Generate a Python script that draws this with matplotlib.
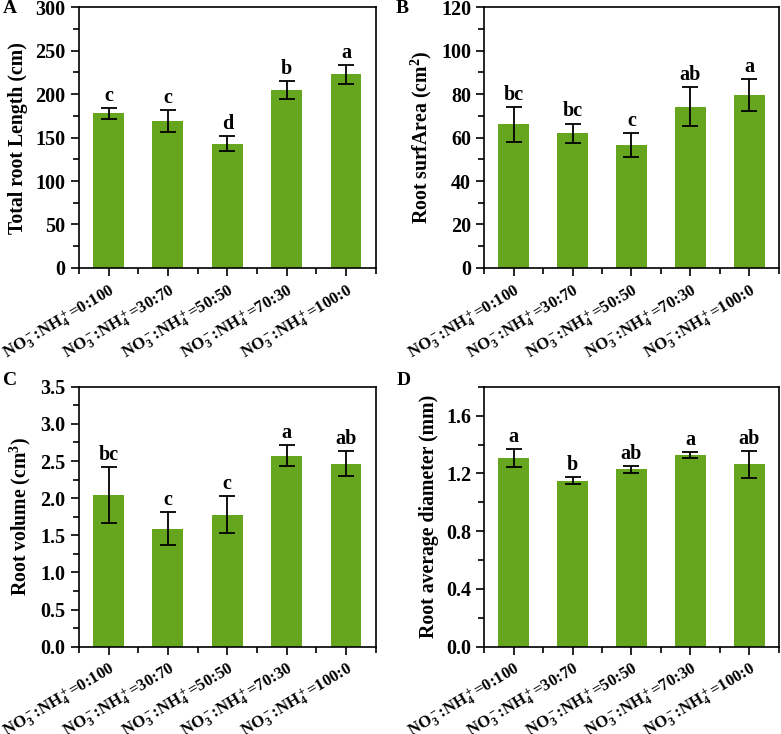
import numpy as np
import matplotlib
matplotlib.use("Agg")
import matplotlib.pyplot as plt
import matplotlib.transforms as mtransforms
from matplotlib.ticker import MultipleLocator

plt.rcParams['font.family'] = ['Liberation Serif', 'DejaVu Serif']
plt.rcParams['font.weight'] = 'bold'
plt.rcParams['mathtext.fontset'] = 'custom'
plt.rcParams['mathtext.rm'] = 'Liberation Serif:bold'
plt.rcParams['mathtext.bf'] = 'Liberation Serif:bold'
plt.rcParams['mathtext.it'] = 'Liberation Serif:bold'
plt.rcParams['mathtext.default'] = 'bf'

# --- data ---
ratios = ['0:100', '30:70', '50:50', '70:30', '100:0']

length_mean = [178, 169, 143, 205, 223]
length_err = [6, 13, 8.5, 10.5, 11]
length_sig = ['c', 'c', 'd', 'b', 'a']

area_mean = [66.2, 61.9, 56.6, 74.2, 79.7]
area_err = [8.0, 4.6, 5.4, 9.0, 7.3]
area_sig = ['bc', 'bc', 'c', 'ab', 'a']

volume_mean = [2.045, 1.59, 1.78, 2.57, 2.465]
volume_err = [0.38, 0.225, 0.245, 0.14, 0.17]
volume_sig = ['bc', 'c', 'c', 'a', 'ab']

diam_mean = [1.306, 1.149, 1.228, 1.326, 1.264]
diam_err = [0.064, 0.024, 0.023, 0.02, 0.093]
diam_sig = ['a', 'b', 'ab', 'a', 'ab']

bar_color = '#66a61f'
xlabels = [r'NO$_3^-$:NH$_4^+$=' + r for r in ratios]

fig = plt.figure(figsize=(7.81, 7.34), dpi=100)

panels = [
    ('A', [0.101, 0.635, 0.380, 0.355], (0.003, 0.988), length_mean, length_err,
     length_sig, 'Total root Length (cm)', (0, 300), 50, 25, '%d'),
    ('B', [0.620, 0.635, 0.377, 0.355], (0.506, 0.988), area_mean, area_err,
     area_sig, r'Root surfArea (cm$^2$)', (0, 120), 20, 10, '%d'),
    ('C', [0.101, 0.119, 0.380, 0.354], (0.004, 0.481), volume_mean, volume_err,
     volume_sig, r'Root volume (cm$^3$)', (0, 3.5), 0.5, 0.25, '%.1f'),
    ('D', [0.620, 0.119, 0.377, 0.354], (0.508, 0.481), diam_mean, diam_err,
     diam_sig, 'Root average diameter (mm)', (0, 1.8), 0.4, 0.2, '%.1f'),
]

x = np.arange(len(ratios))
shift = mtransforms.ScaledTranslation(8 / 100, 0, fig.dpi_scale_trans)
for letter, rect, lpos, mean, err, sig, ylabel, ylim, major, minor, fmt in panels:
    ax = fig.add_axes(rect)
    ax.bar(x, mean, width=0.52, color=bar_color, zorder=2)
    ax.errorbar(x, mean, yerr=err, fmt='none', ecolor='black',
                elinewidth=1.3, capsize=5.5, capthick=1.3, zorder=3)
    off = (ylim[1] - ylim[0]) * 0.008
    for xi, m, e, s in zip(x, mean, err, sig):
        ax.text(xi, m + e + off, s, ha='center', va='bottom',
                fontsize=14.5, fontweight='bold')
    ax.set_xlim(-0.5, len(ratios) - 0.5)
    ax.set_ylim(*ylim)
    ax.yaxis.set_major_locator(MultipleLocator(major))
    ax.yaxis.set_minor_locator(MultipleLocator(minor))
    ax.yaxis.set_major_formatter(matplotlib.ticker.FormatStrFormatter(fmt))
    ax.set_xticks(x)
    ax.set_xticks(np.arange(-0.5, len(ratios), 1.0), minor=True)
    ax.set_xticklabels(xlabels, rotation=31, ha='right',
                       rotation_mode='anchor', fontsize=12)
    for lab in ax.get_xticklabels():
        lab.set_transform(lab.get_transform() + shift)
    ax.tick_params(axis='both', which='major', direction='out', length=6,
                   width=1.2, labelsize=14.5)
    ax.tick_params(axis='x', which='major', labelsize=12, pad=3)
    ax.tick_params(axis='both', which='minor', direction='out', length=4,
                   width=1.2)
    for sp in ax.spines.values():
        sp.set_linewidth(1.2)
    ax.set_ylabel(ylabel, fontsize=14.2, fontweight='bold', labelpad=5)
    fig.text(lpos[0], lpos[1], letter, fontsize=14,
             fontweight='bold', ha='left', va='center')

fig.savefig('out.png', dpi=100)
